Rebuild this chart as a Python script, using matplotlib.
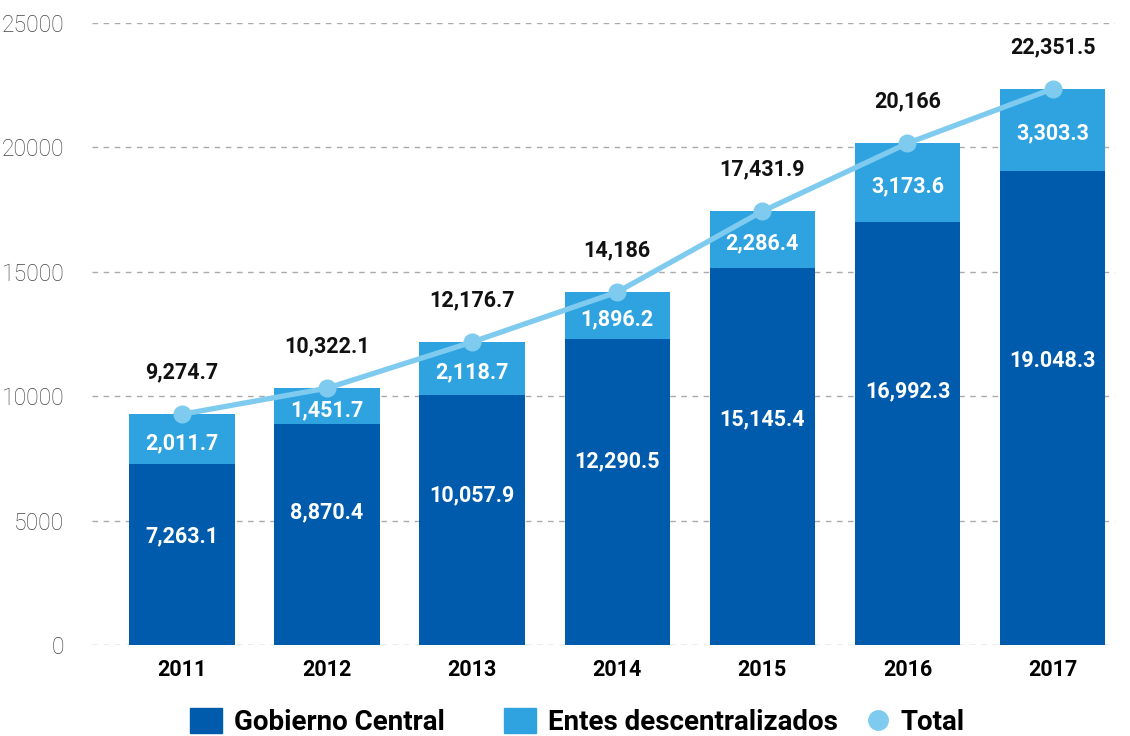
import matplotlib.pyplot as plt
from matplotlib.lines import Line2D
from matplotlib.patches import Patch
import numpy as np

plt.rcParams['font.family'] = ['Roboto', 'DejaVu Sans']

years = ['2011', '2012', '2013', '2014', '2015', '2016', '2017']
gobierno = [7263.1, 8870.4, 10057.9, 12290.5, 15145.4, 16992.3, 19048.3]
entes = [2011.7, 1451.7, 2118.7, 1896.2, 2286.4, 3173.6, 3303.3]
total = [9274.7, 10322.1, 12176.7, 14186, 17431.9, 20166, 22351.5]

gob_labels = ['7,263.1', '8,870.4', '10,057.9', '12,290.5', '15,145.4', '16,992.3', '19.048.3']
entes_labels = ['2,011.7', '1,451.7', '2,118.7', '1,896.2', '2,286.4', '3,173.6', '3,303.3']
total_labels = ['9,274.7', '10,322.1', '12,176.7', '14,186', '17,431.9', '20,166', '22,351.5']

c_gob = '#005bac'
c_entes = '#2ea3df'
c_total = '#7fcbef'

fig = plt.figure(figsize=(11.3, 7.36), dpi=100)
ax = fig.add_axes([0.0814, 0.1236, 0.9053, 0.8452])

x = np.arange(len(years))
w = 0.727
ax.bar(x, gobierno, w, color=c_gob, zorder=2)
ax.bar(x, entes, w, bottom=gobierno, color=c_entes, zorder=2)
ax.plot(x, total, color=c_total, lw=3.8, marker='o', ms=12, zorder=3)

lab = dict(ha='center', va='center', color='white', fontsize=15.5, fontweight='bold')
for i in range(len(x)):
    ax.text(x[i], gobierno[i] * 0.6, gob_labels[i], **lab)
    ax.text(x[i], gobierno[i] + entes[i] / 2 - 150, entes_labels[i], **lab)
    ax.annotate(total_labels[i], (x[i], total[i]), xytext=(0, 30), textcoords='offset points',
                ha='center', va='center', fontsize=15.5, fontweight='bold', color='#111111')

ax.set_ylim(0, 25000)
ax.set_xlim(-0.62, 6.43)
ax.set_yticks(range(0, 25001, 5000))
ax.yaxis.grid(True, ls=(0, (4, 4)), color='#aaaaaa', lw=1, zorder=0)
ax.set_axisbelow(True)
for s in ax.spines.values():
    s.set_visible(False)
ax.tick_params(length=0)
ax.tick_params(axis='y', pad=20, labelsize=16.5, labelcolor='#444444')
for t in ax.get_yticklabels():
    t.set_fontweight('light')
ax.set_xticks(x)
ax.set_xticklabels(years, fontsize=15.5, fontweight='bold')
ax.tick_params(axis='x', pad=10)

# legend in two pieces: the two bar series, then the line marker closer in
leg_font = {'size': 20, 'weight': 'bold'}
bars_handles = [Patch(color=c_gob, label='Gobierno Central'),
                Patch(color=c_entes, label='Entes descentralizados')]
fig.legend(handles=bars_handles, loc='lower left', bbox_to_anchor=(190 / 1130, 0.0),
           ncol=2, frameon=False, prop=leg_font, borderpad=0, borderaxespad=0,
           handlelength=1.15, handleheight=1.0, columnspacing=2.1, handletextpad=0.45)
tot_handle = [Line2D([], [], ls='none', marker='o', ms=14, color=c_total, label='Total')]
fig.legend(handles=tot_handle, loc='lower left', bbox_to_anchor=(866 / 1130, 0.0),
           frameon=False, prop=leg_font, borderpad=0, borderaxespad=0,
           handlelength=0.9, handletextpad=0.35)

fig.savefig('out.png', dpi=100)
